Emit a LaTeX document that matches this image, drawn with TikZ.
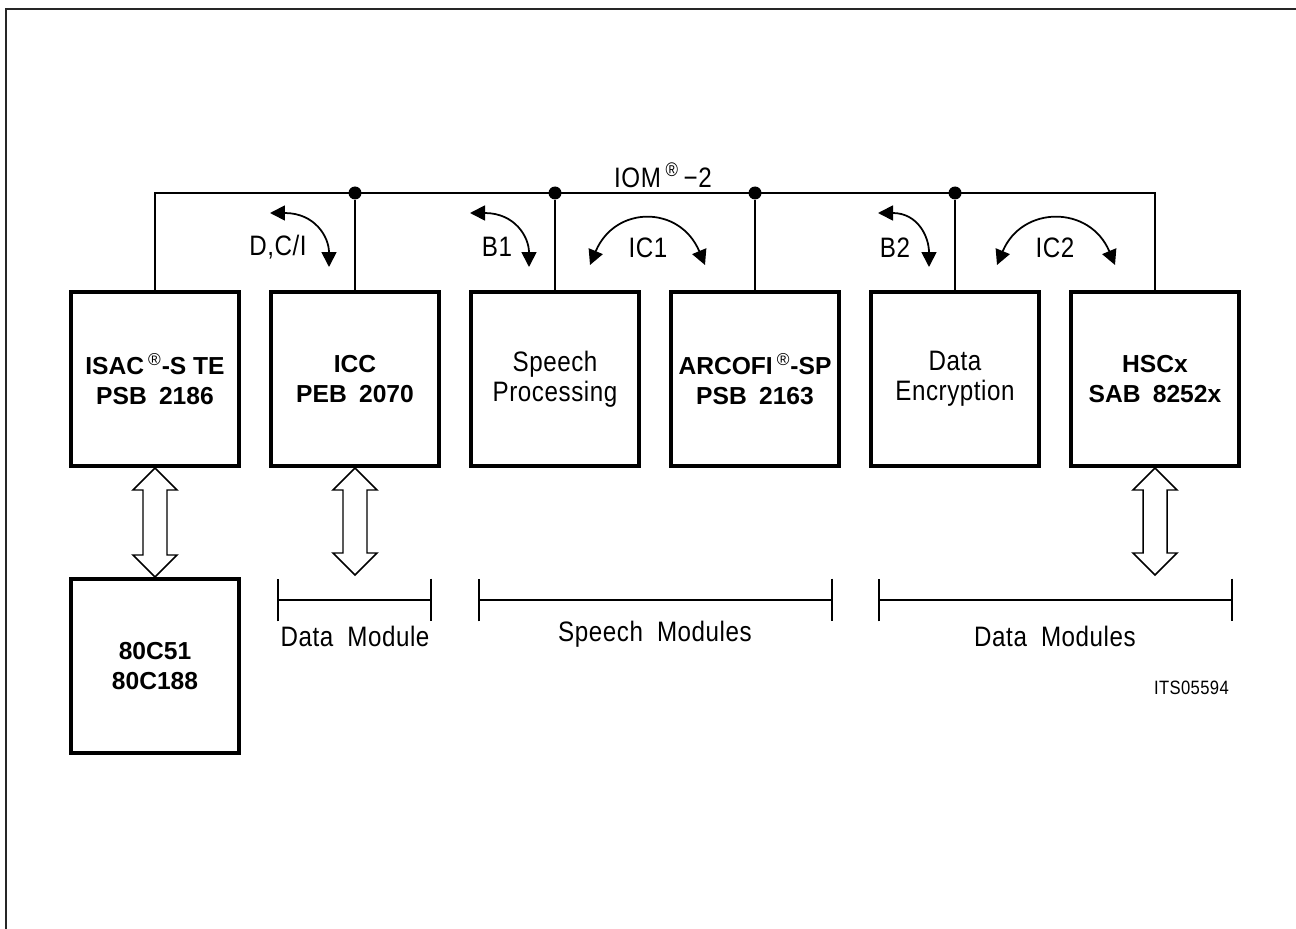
\documentclass[tikz,border=0pt]{standalone}
\usepackage{fontspec}
\setmainfont{Liberation Sans}
\newfontfamily\cadfont[FakeStretch=0.86,LetterSpace=2]{Liberation Sans}
\usetikzlibrary{arrows.meta,calc}
\tikzset{
  chipbox/.style={draw,line width=2.3pt,minimum width=3.36cm,minimum height=3.48cm,inner sep=0pt,
    align=center,font=\fontsize{14}{17}\selectfont\bfseries},
  funcbox/.style={chipbox,font=\cadfont\fontsize{16}{17}\selectfont,execute at begin node={\rule{0pt}{16pt}}},
  busline/.style={line width=1.1pt},
  junction/.style={circle,fill,minimum size=0.26cm,inner sep=0pt},
  swaparrow/.style={{Triangle[length=0.3cm,width=0.3cm]}-{Triangle[length=0.3cm,width=0.3cm]},line width=1pt},
  hollowarrow/.style={line width=0.85pt,line join=miter},
  spanline/.style={{Bar[width=0.86cm]}-{Bar[width=0.86cm]},line width=1pt},
  cadlabel/.style={font=\cadfont\fontsize{16}{19}\selectfont},
  frameline/.style={line width=1.6pt,draw=black!85},
}
% hollow double arrow between two tips (top, bottom)
\newcommand{\hollowpair}[2]{%
  \draw[hollowarrow] (#1) -- ($(#1)+(22,22)$) -- ($(#1)+(12,22)$) -- ($(#2)+(12,-22)$)
    -- ($(#2)+(22,-22)$) -- (#2) -- ($(#2)+(-22,-22)$) -- ($(#2)+(-12,-22)$)
    -- ($(#1)+(-12,22)$) -- ($(#1)+(-22,22)$) -- cycle;}

\begin{document}
\begin{tikzpicture}[x=0.02cm,y=-0.02cm]
  \useasboundingbox (0,0) rectangle (1296,929);
  \draw[frameline] (6,929) -- (6,9) -- (1296,9);

  % chips on the bus
  \node[chipbox] (isac) at (155,379) {ISAC\,\textsuperscript{\normalfont ®}-S TE\\PSB\hspace{0.5em}2186};
  \node[chipbox] (icc) at (355,379) {ICC\\PEB\hspace{0.5em}2070};
  \node[funcbox] (speech) at (555,379) {Speech\\Processing};
  \node[chipbox] (arcofi) at (755,379) {ARCOFI\,\textsuperscript{\normalfont ®}-SP\\PSB\hspace{0.5em}2163};
  \node[funcbox] (crypt) at (955,379) {Data\\Encryption};
  \node[chipbox] (hscx) at (1155,379) {HSCx\\SAB\hspace{0.5em}8252x};
  \node[chipbox] (mcu) at (155,666) {80C51\\80C188};

  % IOM-2 bus
  \coordinate (bus) at (0,193);
  \draw[busline] (isac.north) -- (isac.north |- bus) -- (hscx.north |- bus) -- (hscx.north);
  \node[junction] (j1) at (icc.north |- bus) {};
  \node[junction] (j2) at (speech.north |- bus) {};
  \node[junction] (j3) at (arcofi.north |- bus) {};
  \node[junction] (j4) at (crypt.north |- bus) {};
  \draw[busline] (j1) -- (icc.north);
  \draw[busline] (j2) -- (speech.north);
  \draw[busline] (j3) -- (arcofi.north);
  \draw[busline] (j4) -- (crypt.north);
  \node[cadlabel] (iom) at (663,175) {IOM\,\textsuperscript{®}\,−2};

  % channels
  \coordinate (dcl) at (270,213);
  \coordinate (dcr) at (329,267);
  \draw[swaparrow] (dcl) .. controls +(45,0) and +(0,-30) .. (dcr);
  \node[cadlabel] (dcilabel) at (278,247) {D,C/I};
  \coordinate (b1l) at (470,213);
  \coordinate (b1r) at (529,267);
  \draw[swaparrow] (b1l) .. controls +(45,0) and +(0,-30) .. (b1r);
  \node[cadlabel] (b1label) at (497,247) {B1};
  \coordinate (ic1l) at (590,265);
  \coordinate (ic1r) at (705,265);
  \draw[swaparrow] (ic1l) .. controls +(25,-60) and +(-25,-60) .. (ic1r);
  \node[cadlabel] (ic1label) at (648,248) {IC1};
  \coordinate (b2l) at (878,213);
  \coordinate (b2r) at (929,267);
  \draw[swaparrow] (b2l) .. controls +(40,0) and +(0,-30) .. (b2r);
  \node[cadlabel] (b2label) at (895,248) {B2};
  \coordinate (ic2l) at (997,265);
  \coordinate (ic2r) at (1115,265);
  \draw[swaparrow] (ic2l) .. controls +(25,-60) and +(-25,-60) .. (ic2r);
  \node[cadlabel] (ic2label) at (1055,248) {IC2};

  % data buses
  \coordinate (iccport) at (355,575);
  \coordinate (hscxport) at (1155,575);
  \hollowpair{isac.south}{mcu.north}
  \hollowpair{icc.south}{iccport}
  \hollowpair{hscx.south}{hscxport}

  % module spans
  \coordinate (dml) at (277,600);
  \coordinate (dmr) at (432,600);
  \draw[spanline] (dml) -- (dmr);
  \node[cadlabel] (dmlabel) at (355,636) {Data\hspace{0.5em}Module};
  \coordinate (sml) at (478,600);
  \coordinate (smr) at (833,600);
  \draw[spanline] (sml) -- (smr);
  \node[cadlabel] (smlabel) at (655,634) {Speech\hspace{0.5em}Modules};
  \coordinate (dsl) at (878,600);
  \coordinate (dsr) at (1233,600);
  \draw[spanline] (dsl) -- (dsr);
  \node[cadlabel] (dslabel) at (1055,636) {Data\hspace{0.5em}Modules};

  \node[anchor=east,font=\cadfont\fontsize{11}{13}\selectfont] (figid) at (1235,688) {ITS05594};
\end{tikzpicture}
\end{document}
